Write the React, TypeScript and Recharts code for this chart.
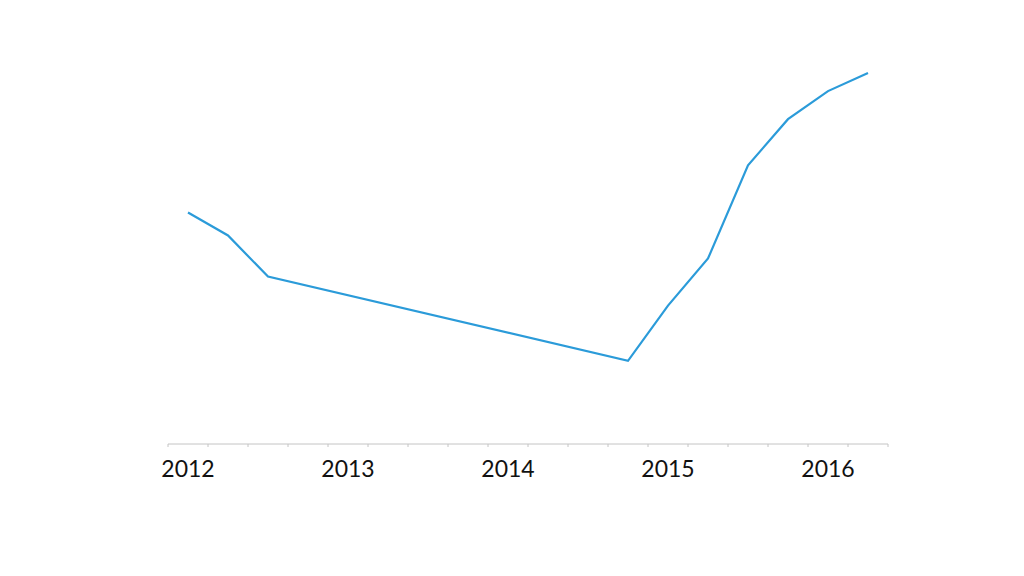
import { Line, LineChart, XAxis, YAxis } from 'recharts';

// quarterly categories, 2012 Q1 .. 2016 Q2
const quarters = [
  '2012 Q1', '2012 Q2', '2012 Q3', '2012 Q4',
  '2013 Q1', '2013 Q2', '2013 Q3', '2013 Q4',
  '2014 Q1', '2014 Q2', '2014 Q3', '2014 Q4',
  '2015 Q1', '2015 Q2', '2015 Q3', '2015 Q4',
  '2016 Q1', '2016 Q2',
];

// (no y axis shown), gaps are joined by a straight line
const values: Array<number | null> = [
  231, 208, 167, null,
  null, null, null, null,
  null, null, null, 83,
  138, 185, 278, 324,
  352, 370,
];

const yearLabels = ['2012', '2013', '2014', '2015', '2016'];

const data = quarters.map((q, i) => ({ q, x: i + 0.5, value: values[i] }));

// boundaries between quarters get the small tick marks
const boundaryTicks = quarters.map((_, i) => i).concat(quarters.length);
// year labels sit in the middle of each year's first quarter
const labelTicks = yearLabels.map((_, i) => i * 4 + 0.5);

const NoLabel = () => <g />;

export default function App() {
  return (
    <div style={{ position: 'absolute', left: 0, top: 0, width: 1024, height: 576, background: '#fff' }}>
      <LineChart
        width={1024}
        height={576}
        data={data}
        margin={{ top: 43, right: 136, bottom: 91, left: 168 }}
      >
        <XAxis
          xAxisId="grid"
          dataKey="x"
          type="number"
          domain={[0, quarters.length]}
          ticks={boundaryTicks}
          interval={0}
          tick={<NoLabel />}
          tickSize={3}
          height={1}
          axisLine={{ stroke: '#c4c4c4' }}
          tickLine={{ stroke: '#c4c4c4' }}
        />
        <XAxis
          xAxisId="labels"
          dataKey="x"
          type="number"
          domain={[0, quarters.length]}
          ticks={labelTicks}
          interval={0}
          height={40}
          tickSize={0}
          tickMargin={16}
          axisLine={false}
          tickLine={false}
          tickFormatter={(v: number) => yearLabels[Math.round((v - 0.5) / 4)]}
          tick={{ fill: '#111', fontSize: 23, fontFamily: 'Lato, sans-serif' }}
        />
        <YAxis hide domain={[0, 400]} />
        <Line
          xAxisId="grid"
          type="linear"
          dataKey="value"
          stroke="#2b9bd9"
          strokeWidth={2.2}
          dot={false}
          connectNulls
          isAnimationActive={false}
        />
      </LineChart>
    </div>
  );
}
